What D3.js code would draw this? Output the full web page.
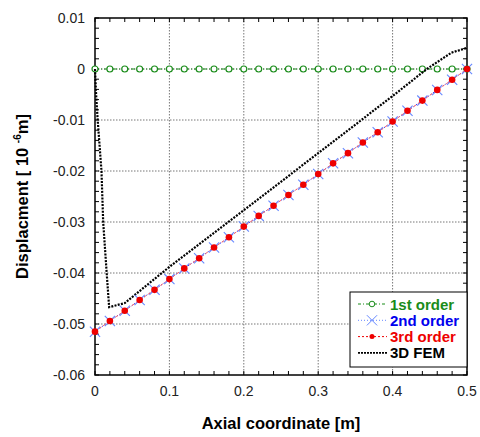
<!DOCTYPE html>
<html>
<head>
<meta charset="utf-8">
<script src="https://d3js.org/d3.v7.min.js"></script>
<style>
  body { margin: 0; background: #fff; }
  text { font-family: "Liberation Sans", Arial, sans-serif; }
</style>
</head>
<body>
<div id="chart"></div>
<script>
// axial positions of the beam-model nodes [m]
var xNodes = [0, 0.02, 0.04, 0.06, 0.08, 0.1, 0.12, 0.14, 0.16, 0.18, 0.2, 0.22, 0.24,
  0.26, 0.28, 0.3, 0.32, 0.34, 0.36, 0.38, 0.4, 0.42, 0.44, 0.46, 0.48, 0.5];

var firstOrder = [0, 0, 0, 0, 0, 0, 0, 0, 0, 0, 0, 0, 0, 0, 0, 0, 0, 0, 0, 0, 0, 0, 0, 0, 0, 0];

var secondOrder = [-0.0515, -0.0494, -0.0474, -0.0453, -0.0433, -0.0412, -0.0391, -0.0371,
  -0.0350, -0.0330, -0.0309, -0.0288, -0.0268, -0.0247, -0.0227, -0.0206, -0.0185, -0.0165,
  -0.0144, -0.0124, -0.0103, -0.0082, -0.0062, -0.0041, -0.0021, 0];

var thirdOrder = [-0.0515, -0.0494, -0.0474, -0.0453, -0.0433, -0.0412, -0.0391, -0.0371,
  -0.0350, -0.0330, -0.0309, -0.0288, -0.0268, -0.0247, -0.0227, -0.0206, -0.0185, -0.0165,
  -0.0144, -0.0124, -0.0103, -0.0082, -0.0062, -0.0041, -0.0021, 0];

var femX = [0, 0.0015, 0.0036, 0.0087, 0.011, 0.0157, 0.019, 0.04, 0.1, 0.2, 0.3, 0.4, 0.446, 0.479, 0.499];
var femY = [0, -0.005, -0.01, -0.02, -0.03, -0.04, -0.0467, -0.0459, -0.0388, -0.0277, -0.0165, -0.0053, 0, 0.0032, 0.0041];

var xTicks = [0, 0.1, 0.2, 0.3, 0.4, 0.5];
var yTicks = [0.01, 0, -0.01, -0.02, -0.03, -0.04, -0.05, -0.06];

var legendNames = ["1st order", "2nd order", "3rd order", "3D FEM"];
var legendColors = ["#1a8c1a", "#0000ee", "#ee0000", "#000"];

var W = 480, H = 437;
var margin = {top: 18, right: 13, bottom: 62, left: 95};
var width = W - margin.left - margin.right, height = H - margin.top - margin.bottom;

var svg = d3.select("#chart").append("svg")
    .attr("width", W)
    .attr("height", H);

var g = svg.append("g")
    .attr("transform", "translate(" + margin.left + "," + margin.top + ")");

var x = d3.scaleLinear().domain([0, 0.5]).range([0, width]);
var y = d3.scaleLinear().domain([-0.06, 0.01]).range([height, 0]);

// grid
g.selectAll(".gx").data(xTicks.slice(1, -1)).enter().append("line")
    .attr("x1", d => x(d)).attr("x2", d => x(d))
    .attr("y1", 0).attr("y2", height)
    .attr("stroke", "#777").attr("stroke-width", 1).attr("stroke-dasharray", "1.5,1.5");
g.selectAll(".gy").data(yTicks.slice(1, -1)).enter().append("line")
    .attr("y1", d => y(d)).attr("y2", d => y(d))
    .attr("x1", 0).attr("x2", width)
    .attr("stroke", "#777").attr("stroke-width", 1).attr("stroke-dasharray", "1.5,1.5");

// minor + major ticks on all four sides, pointing inward
var xMinor = d3.range(0, 0.5001, 0.02);
var yMinor = d3.range(-0.06, 0.01001, 0.002);
var gAx = g.append("g").attr("stroke", "#000").attr("stroke-width", 1);
xMinor.forEach(function (d) {
  gAx.append("line").attr("x1", x(d)).attr("x2", x(d)).attr("y1", height).attr("y2", height - 4);
  gAx.append("line").attr("x1", x(d)).attr("x2", x(d)).attr("y1", 0).attr("y2", 4);
});
yMinor.forEach(function (d) {
  gAx.append("line").attr("y1", y(d)).attr("y2", y(d)).attr("x1", 0).attr("x2", 4);
  gAx.append("line").attr("y1", y(d)).attr("y2", y(d)).attr("x1", width).attr("x2", width - 4);
});

g.append("rect")
    .attr("width", width).attr("height", height)
    .attr("fill", "none").attr("stroke", "#000").attr("stroke-width", 1.5);

// tick labels
g.selectAll(".xl").data(xTicks).enter().append("text")
    .attr("x", d => x(d)).attr("y", height + 21)
    .attr("text-anchor", "middle")
    .attr("font-size", 14).attr("fill", "#222")
    .text(d => d3.format("")(d));
g.selectAll(".yl").data(yTicks).enter().append("text")
    .attr("x", -10).attr("y", d => y(d) + 5)
    .attr("text-anchor", "end")
    .attr("font-size", 14).attr("fill", "#222")
    .text(d => d === 0 ? "0" : d3.format(".2f")(d).replace("−", "-"));

// axis titles
svg.append("text")
    .attr("x", margin.left + width / 2).attr("y", 429)
    .attr("text-anchor", "middle")
    .attr("font-size", 16.5).attr("font-weight", "bold")
    .text("Axial coordinate [m]");

var yt = svg.append("text")
    .attr("transform", "translate(28," + (margin.top + height / 2) + ") rotate(-90)")
    .attr("text-anchor", "middle")
    .attr("font-size", 16.5).attr("font-weight", "bold");
yt.append("tspan").text("Displacment [ 10 ");
yt.append("tspan").attr("dy", -7).attr("font-size", 10).text("-6");
yt.append("tspan").attr("dy", 7).text("m]");

// series
var line = d3.line().x(d => x(d[0])).y(d => y(d[1]));
var s1 = xNodes.map((d, i) => [d, firstOrder[i]]);
var s2 = xNodes.map((d, i) => [d, secondOrder[i]]);
var s3 = xNodes.map((d, i) => [d, thirdOrder[i]]);
var fem = femX.map((d, i) => [d, femY[i]]);

g.append("path").datum(s1).attr("d", line).attr("fill", "none")
    .attr("stroke", legendColors[0]).attr("stroke-dasharray", "4,2,1,2");
g.selectAll(".m1").data(s1).enter().append("circle")
    .attr("cx", d => x(d[0])).attr("cy", d => y(d[1])).attr("r", 3)
    .attr("fill", "#fff").attr("stroke", legendColors[0]).attr("stroke-width", 1.2);

g.append("path").datum(fem).attr("d", line).attr("fill", "none")
    .attr("stroke", "#000").attr("stroke-width", 2.2).attr("stroke-dasharray", "2,1.3");

g.append("path").datum(s2).attr("d", line).attr("fill", "none")
    .attr("stroke", legendColors[1]).attr("stroke-dasharray", "1,2");
g.append("path").datum(s3).attr("d", line).attr("fill", "none")
    .attr("stroke", "#ff6666").attr("stroke-dasharray", "3,2");

var cross = d3.symbol().type(d3.symbolX).size(70);
g.selectAll(".m2").data(s2).enter().append("path")
    .attr("transform", d => "translate(" + x(d[0]) + "," + y(d[1]) + ")")
    .attr("d", cross).attr("fill", "none").attr("stroke", "#6688ff").attr("stroke-width", 1.1);
g.selectAll(".m3").data(s3).enter().append("circle")
    .attr("cx", d => x(d[0])).attr("cy", d => y(d[1])).attr("r", 3.3)
    .attr("fill", legendColors[2]);

// legend
var lg = g.append("g").attr("transform", "translate(" + (width - 117) + "," + (height - 83) + ")");
lg.append("rect").attr("width", 117).attr("height", 75)
    .attr("fill", "#fff").attr("stroke", "#000").attr("stroke-width", 1);
legendNames.forEach(function (name, i) {
  var ly = 12 + i * 16.3;
  var row = lg.append("g").attr("transform", "translate(0," + ly + ")");
  var dash = ["3,2,1,2", "1,2", "2,2", "2,1"][i];
  row.append("line").attr("x1", 8).attr("x2", 37).attr("y1", 0).attr("y2", 0)
      .attr("stroke", i === 1 ? "#6688ff" : legendColors[i])
      .attr("stroke-width", i === 3 ? 1.6 : 1)
      .attr("stroke-dasharray", dash);
  if (i === 0) row.append("circle").attr("cx", 22).attr("r", 2.8).attr("fill", "#fff").attr("stroke", legendColors[0]);
  if (i === 1) row.append("path").attr("transform", "translate(22,0)").attr("d", cross).attr("stroke", "#6688ff").attr("fill", "none");
  if (i === 2) row.append("circle").attr("cx", 22).attr("r", 2.5).attr("fill", legendColors[2]);
  row.append("text").attr("x", 40).attr("y", 5.5)
      .attr("font-size", 15).attr("font-weight", "bold")
      .attr("fill", legendColors[i]).text(name);
});
</script>
</body>
</html>
